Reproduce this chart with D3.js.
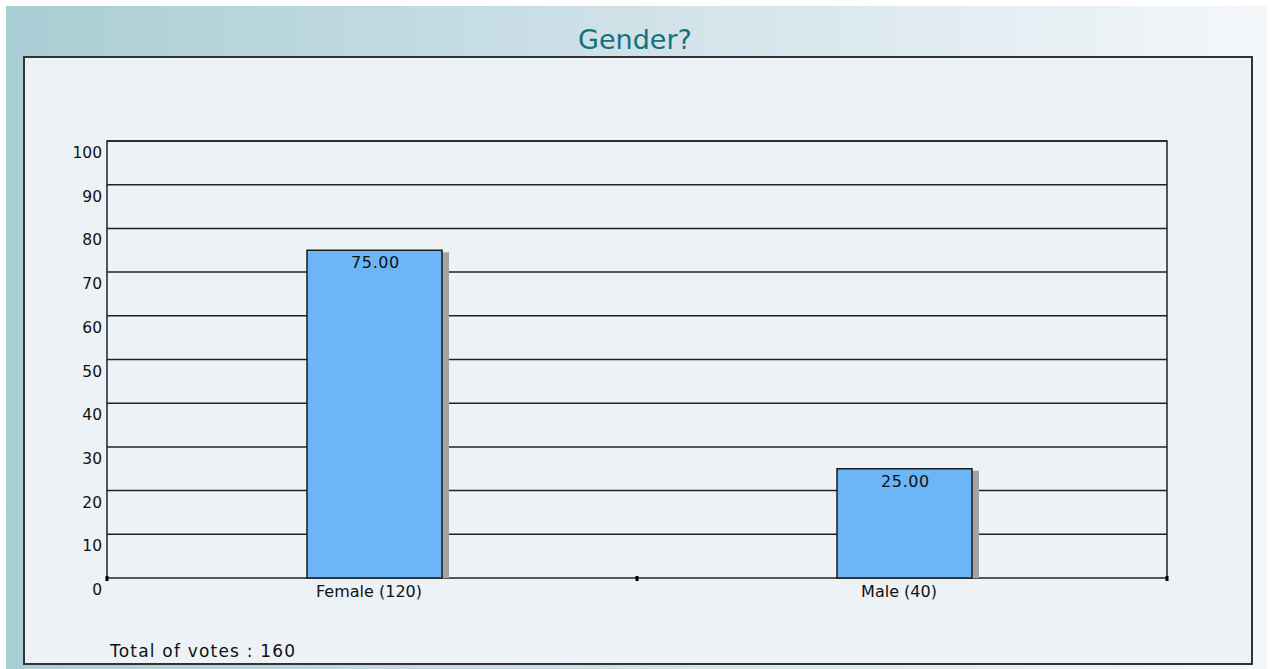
<!DOCTYPE html>
<html>
<head>
<meta charset="utf-8">
<script src="https://cdn.jsdelivr.net/npm/d3@7"></script>
<style>
  body { margin: 0; background: #fff; }
  svg { display: block; }
</style>
</head>
<body>
<div class="wrapper"></div>
<script>
// chart data
var categories = ["Female", "Male"];
var votes = [120, 40];
var percents = [75.00, 25.00];
var yTicks = [0, 10, 20, 30, 40, 50, 60, 70, 80, 90, 100];
var title = "Gender?";

var W = 1270, H = 669;
var font = "DejaVu Sans, Verdana, sans-serif";

var svg = d3.select(".wrapper")
  .append("svg")
    .attr("width", W)
    .attr("height", H);

// page gradient
var defs = svg.append("defs");
var grad = defs.append("linearGradient").attr("id", "bg")
    .attr("x1", "0%").attr("x2", "100%").attr("y1", "0%").attr("y2", "0%");
grad.append("stop").attr("offset", "0%").attr("stop-color", "#a9cdd4");
grad.append("stop").attr("offset", "55%").attr("stop-color", "#d3e4ea");
grad.append("stop").attr("offset", "100%").attr("stop-color", "#f4f7fa");

svg.append("rect")
    .attr("x", 6).attr("y", 6).attr("width", W - 9).attr("height", H - 6)
    .attr("fill", "url(#bg)");

svg.append("text")
    .attr("x", 635).attr("y", 49)
    .attr("text-anchor", "middle")
    .style("font-family", font)
    .style("font-size", "27px")
    .attr("fill", "#16707c")
    .text(title);

// inner panel
svg.append("rect")
    .attr("x", 24).attr("y", 57).attr("width", 1228).attr("height", 607)
    .attr("fill", "#edf2f6")
    .attr("stroke", "#333").attr("stroke-width", 2);

var plot = {left: 107, right: 1167, top: 141, bottom: 578};

var x = d3.scaleBand()
    .domain(categories)
    .range([plot.left, plot.right]);

var y = d3.scaleLinear()
    .domain([0, 100])
    .range([plot.bottom, plot.top]);

var g = svg.append("g");

// grid lines
g.selectAll("line.grid")
  .data(yTicks)
  .enter().append("line")
    .attr("class", "grid")
    .attr("x1", plot.left).attr("x2", plot.right)
    .attr("y1", function(d) { return y(d); })
    .attr("y2", function(d) { return y(d); })
    .attr("stroke", "#222").attr("stroke-width", 1.5);

// frame
g.append("path")
    .attr("d", "M" + plot.left + "," + plot.bottom + "V" + plot.top + "H" + plot.right + "V" + plot.bottom)
    .attr("fill", "none").attr("stroke", "#222").attr("stroke-width", 1.5);

// y labels
g.selectAll("text.ylab")
  .data(yTicks)
  .enter().append("text")
    .attr("class", "ylab")
    .attr("x", plot.left - 5)
    .attr("y", function(d) { return y(d) + 17; })
    .attr("text-anchor", "end")
    .style("font-family", font)
    .style("font-size", "15.5px")
    .attr("fill", "#111")
    .text(function(d) { return d; });

// x ticks
var xTicks = [plot.left, x("Male"), plot.right];
g.selectAll("rect.xt")
  .data(xTicks)
  .enter().append("rect")
    .attr("class", "xt")
    .attr("x", function(d) { return d - 1.5; })
    .attr("y", plot.bottom - 2)
    .attr("width", 3).attr("height", 5)
    .attr("fill", "#000");

var barW = 135, off = 2.5;

// shadows
g.selectAll("rect.shadow")
  .data(percents)
  .enter().append("rect")
    .attr("class", "shadow")
    .attr("x", function(d, i) { return x(categories[i]) + x.bandwidth() / 2 - barW / 2 + off + barW; })
    .attr("y", function(d) { return y(d) + 2; })
    .attr("width", 7)
    .attr("height", function(d) { return plot.bottom - y(d) - 2; })
    .attr("fill", "#a3a3a3");

// bars
g.selectAll("rect.bar")
  .data(percents)
  .enter().append("rect")
    .attr("class", "bar")
    .attr("x", function(d, i) { return x(categories[i]) + x.bandwidth() / 2 - barW / 2 + off; })
    .attr("y", function(d) { return y(d); })
    .attr("width", barW)
    .attr("height", function(d) { return plot.bottom - y(d); })
    .attr("fill", "#6cb6f8")
    .attr("stroke", "#1a1a1a").attr("stroke-width", 1.5);

// value labels
g.selectAll("text.val")
  .data(percents)
  .enter().append("text")
    .attr("class", "val")
    .attr("x", function(d, i) { return x(categories[i]) + x.bandwidth() / 2 + off + 1; })
    .attr("y", function(d) { return y(d) + 18; })
    .attr("text-anchor", "middle")
    .style("font-family", font)
    .style("font-size", "16px")
    .style("letter-spacing", "0.6px")
    .attr("fill", "#111")
    .text(function(d) { return d.toFixed(2); });

// category labels
g.selectAll("text.cat")
  .data(categories)
  .enter().append("text")
    .attr("class", "cat")
    .attr("x", function(d) { return x(d) + x.bandwidth() / 2 - 3; })
    .attr("y", plot.bottom + 19)
    .attr("text-anchor", "middle")
    .style("font-family", font)
    .style("font-size", "16px")
    .attr("fill", "#111")
    .text(function(d, i) { return d + " (" + votes[i] + ")"; });

svg.append("text")
    .attr("x", 110).attr("y", 657)
    .style("font-family", font)
    .style("font-size", "17px")
    .style("letter-spacing", "1.2px")
    .attr("fill", "#111")
    .text("Total of votes : " + d3.sum(votes));
</script>
</body>
</html>
